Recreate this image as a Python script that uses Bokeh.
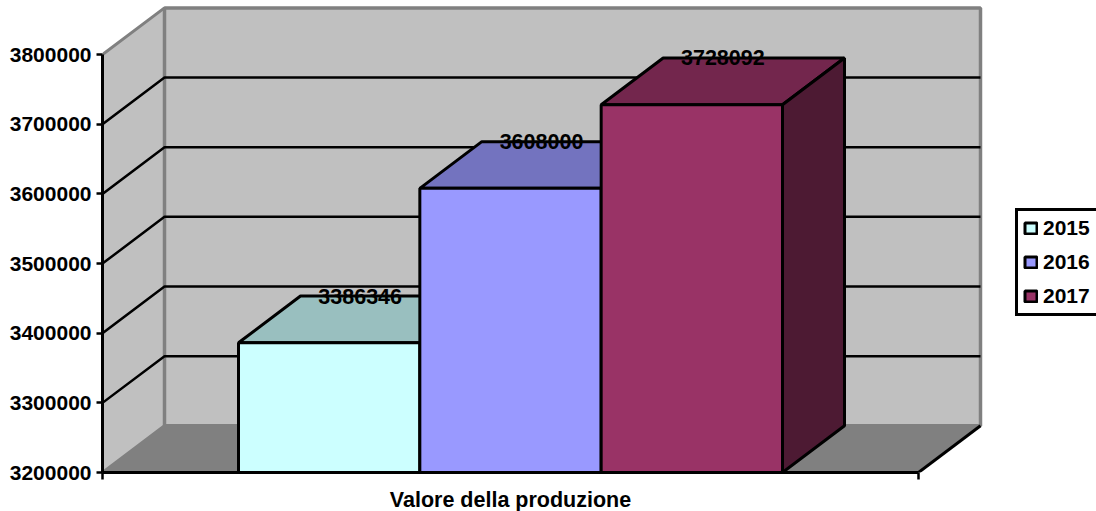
from bokeh.plotting import figure
from bokeh.embed import file_html
from bokeh.resources import INLINE
from bokeh.models import FixedTicker, Legend, LegendItem, BasicTickFormatter, ColumnDataSource
from bokeh.core.properties import value

# --- data ---
category = "Valore della produzione"
series = ["2015", "2016", "2017"]
values = [3386346, 3608000, 3728092]
y_ticks = [3200000, 3300000, 3400000, 3500000, 3600000, 3700000, 3800000]
front_colors = ["#CCFFFF", "#9999FF", "#993366"]
top_colors = ["#99BFBF", "#7373BF", "#73264D"]
side_colors = ["#668080", "#4D4D80", "#4D1A33"]

# --- chart geometry (data units) ---
FONT = "Liberation Sans"
FS = "21.5px"
FS_SMALL = "21px"
Y0, Y1 = y_ticks[0], y_ticks[-1]
PX_X = 816.0            # pixels for one category
PX_Y = 69.65 / 100000   # pixels per value unit
DX = 62 / PX_X
DY = 46.7 / PX_Y
BAR_W = 1 / 4.5
GAP = BAR_W * 0.75
FRAME_W, FRAME_H = 994, 472

p = figure(width=1096, height=511, output_backend="svg", toolbar_location=None,
           x_range=(0, FRAME_W / PX_X), y_range=(Y0, Y0 + FRAME_H / PX_Y),
           frame_width=FRAME_W, frame_height=FRAME_H,
           min_border_left=102, min_border_right=0, min_border_top=0, min_border_bottom=39,
           background_fill_color="white", border_fill_color="white", outline_line_color=None)
p.grid.visible = False

# walls and floor
GRAY = "#808080"
p.patch([0, DX, DX, 0], [Y0, Y0 + DY, Y1 + DY, Y1], fill_color="#C0C0C0", line_color=GRAY, line_width=3)
p.quad(left=DX, right=1 + DX, bottom=Y0 + DY, top=Y1 + DY, fill_color="#C0C0C0", line_color=GRAY, line_width=3.5)
p.patch([0, 1, 1 + DX, DX], [Y0, Y0, Y0 + DY, Y0 + DY], fill_color=GRAY, line_color=GRAY, line_width=1.5)
p.line([1, 1 + DX], [Y0, Y0 + DY], line_color="black", line_width=3)

# gridlines
for t in y_ticks[1:-1]:
    p.line([0, DX, 1 + DX], [t, t + DY, t + DY], line_color="black", line_width=2.5)

# bars
renderers = []
for i, v in enumerate(values):
    l = GAP + i * BAR_W
    r = l + BAR_W
    p.patch([l, r, r + DX, l + DX], [v, v, v + DY, v + DY], fill_color=top_colors[i], line_color="black", line_width=3)
    p.patch([r, r + DX, r + DX, r], [Y0, Y0 + DY, v + DY, v], fill_color=side_colors[i], line_color="black", line_width=3)
    renderers.append(p.quad(left=l, right=r, bottom=Y0, top=v, fill_color=front_colors[i], line_color="black", line_width=3))

# data labels
src = ColumnDataSource(dict(
    x=[GAP + (i + 0.5) * BAR_W + DX / 2 for i in range(3)],
    y=[v + DY for v in values],
    t=[str(v) for v in values]))
p.text("x", "y", text="t", source=src, text_align="center", text_baseline="middle",
       text_font=value(FONT), text_font_style="bold", text_font_size=value(FS), text_color="black")

# axes
ya = p.yaxis[0]
ya.ticker = FixedTicker(ticks=y_ticks)
ya.formatter = BasicTickFormatter(use_scientific=False)
ya.bounds = (Y0, Y1)
ya.axis_line_color = "black"
ya.axis_line_width = 3
ya.major_tick_line_color = "black"
ya.major_tick_line_width = 2.5
ya.major_tick_in = 0
ya.major_tick_out = 6
ya.minor_tick_line_color = None
ya.major_label_standoff = 5
ya.major_label_text_font = FONT
ya.major_label_text_font_style = "bold"
ya.major_label_text_font_size = FS_SMALL
ya.major_label_text_color = "black"

xa = p.xaxis[0]
xa.ticker = FixedTicker(ticks=[0.5], minor_ticks=[0, 1])
xa.major_label_overrides = {0.5: category}
xa.bounds = (0, 1)
xa.axis_line_color = "black"
xa.axis_line_width = 3
xa.major_tick_line_color = None
xa.major_tick_in = 0
xa.major_tick_out = 0
xa.minor_tick_line_color = "black"
xa.minor_tick_line_width = 2.5
xa.minor_tick_in = 0
xa.minor_tick_out = 7
xa.major_label_standoff = 8
xa.major_label_text_font = FONT
xa.major_label_text_font_style = "bold"
xa.major_label_text_font_size = FS
xa.major_label_text_color = "black"

# legend
legend = Legend(items=[LegendItem(label=s, renderers=[r]) for s, r in zip(series, renderers)],
                location=(913, 156), orientation="vertical",
                border_line_color="black", border_line_width=3, border_line_alpha=1,
                background_fill_color="white", background_fill_alpha=1,
                padding=5, spacing=10, margin=0,
                glyph_width=15, glyph_height=14, label_height=20, label_standoff=5, label_width=62,
                label_text_font=FONT, label_text_font_style="bold",
                label_text_font_size=FS_SMALL, label_text_color="black")
p.add_layout(legend, "center")

open("out.html", "w").write(file_html(p, INLINE))
